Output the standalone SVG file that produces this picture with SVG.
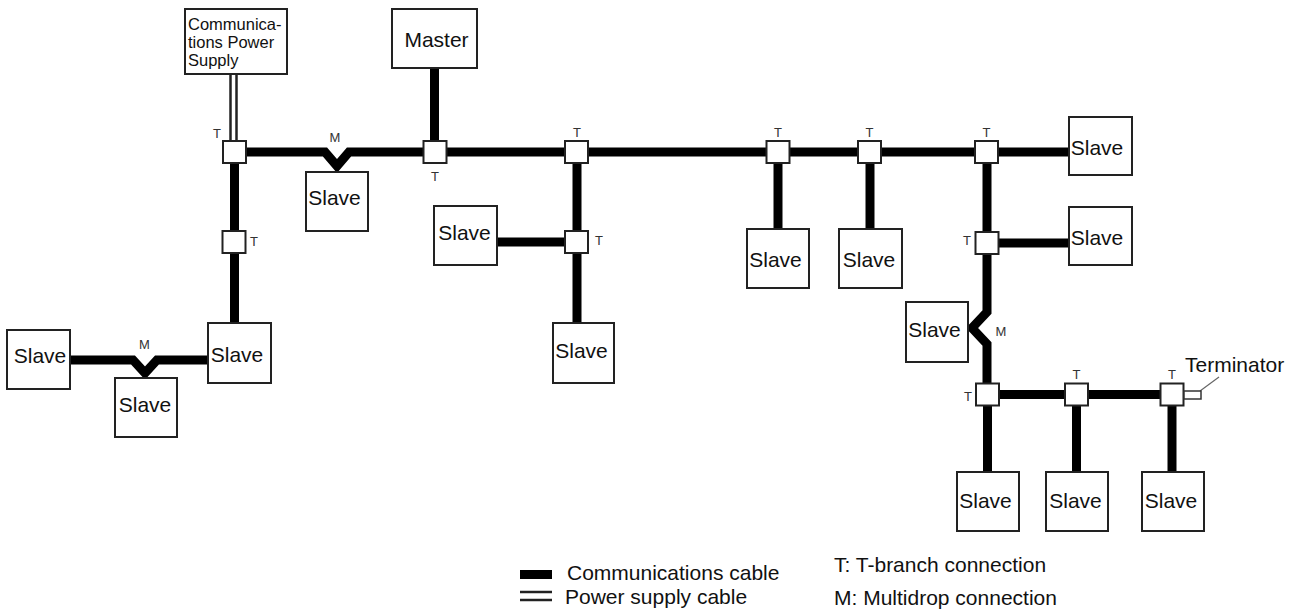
<svg xmlns="http://www.w3.org/2000/svg" width="1298" height="610" viewBox="0 0 1298 610">
<style>
.box{fill:#fff;stroke:#222;stroke-width:2}
.t{fill:#fff;stroke:#222;stroke-width:2}
.cab{fill:none;stroke:#000;stroke-width:9;stroke-linejoin:miter;stroke-miterlimit:10}
.pw{fill:none;stroke:#222;stroke-width:2.5}
.lbl{font-family:"Liberation Sans",Arial,sans-serif;font-size:21px;fill:#111}
.leg{font-family:"Liberation Sans",Arial,sans-serif;font-size:21px;fill:#111}
.ps{font-family:"Liberation Sans",Arial,sans-serif;font-size:16.5px;fill:#111}
.tl{font-family:"Liberation Sans",Arial,sans-serif;font-size:13px;fill:#333;text-anchor:middle}
.sl{text-anchor:middle}
</style>
<rect width="1298" height="610" fill="#fff"/>
<g id="connectors">
<path class="cab" d="M234.5,152 L325,152 L337,166 L349,152 L1069,152"/>
<path class="cab" d="M234.5,152 L234.5,323"/>
<path class="cab" d="M70,360 L133,360 L145,373 L157,360 L208,360"/>
<path class="cab" d="M434.5,68 L434.5,152"/>
<path class="cab" d="M577,152 L577,323"/>
<path class="cab" d="M497,242 L577,242"/>
<path class="cab" d="M778,152 L778,229"/>
<path class="cab" d="M870,152 L870,229"/>
<path class="cab" d="M987,152 L987,312 L972,328 L987,344 L987,394.5 L1172,394.5"/>
<path class="cab" d="M987,243 L1069,243"/>
<path class="cab" d="M987.5,394.5 L987.5,472"/>
<path class="cab" d="M1076.5,394.5 L1076.5,472"/>
<path class="cab" d="M1172,394.5 L1172,472"/>
<line class="pw" x1="230.5" y1="74" x2="230.5" y2="141"/>
<line class="pw" x1="236.5" y1="74" x2="236.5" y2="141"/>
<line x1="1200" y1="391" x2="1219" y2="377" stroke="#666" stroke-width="1.2"/>
</g>
<g id="tbranches">
<rect class="t" x="223" y="141" width="23" height="22"/>
<rect class="t" x="423.5" y="141" width="23" height="22"/>
<rect class="t" x="565" y="141" width="23" height="22"/>
<rect class="t" x="766.5" y="141" width="23" height="22"/>
<rect class="t" x="858" y="141" width="23" height="22"/>
<rect class="t" x="975" y="141" width="23" height="22"/>
<rect class="t" x="222.5" y="231" width="23" height="22"/>
<rect class="t" x="565" y="231" width="23" height="22"/>
<rect class="t" x="975.5" y="232" width="23" height="22"/>
<rect class="t" x="976" y="383.5" width="23" height="22"/>
<rect class="t" x="1065" y="383.5" width="23" height="22"/>
<rect class="t" x="1160.5" y="383.5" width="23" height="22"/>
<text class="tl" x="217" y="138">T</text>
<text class="tl" x="335" y="142">M</text>
<text class="tl" x="435" y="181">T</text>
<text class="tl" x="577" y="137">T</text>
<text class="tl" x="778" y="137">T</text>
<text class="tl" x="869.5" y="137">T</text>
<text class="tl" x="986.5" y="137">T</text>
<text class="tl" x="254" y="246">T</text>
<text class="tl" x="599" y="245">T</text>
<text class="tl" x="967" y="245">T</text>
<text class="tl" x="1001" y="336">M</text>
<text class="tl" x="144.5" y="349">M</text>
<text class="tl" x="968" y="401">T</text>
<text class="tl" x="1076.5" y="379">T</text>
<text class="tl" x="1172" y="379">T</text>
</g>
<g id="terminator">
<rect x="1184" y="391" width="17" height="8" fill="#fff" stroke="#333" stroke-width="1.5"/>
<text class="lbl" x="1185" y="372">Terminator</text>
</g>
<g id="power-supply">
<rect class="box" x="185" y="9" width="102" height="65"/>
<text class="ps" x="188" y="30">Communica-</text>
<text class="ps" x="188" y="48">tions Power</text>
<text class="ps" x="188" y="66">Supply</text>
</g>
<g id="master">
<rect class="box" x="392" y="9" width="85" height="59"/>
<text class="lbl sl" x="436.5" y="47">Master</text>
</g>
<g id="slave-m1"><rect class="box" x="306" y="172" width="62" height="59"/><text class="lbl sl" x="334.5" y="205">Slave</text></g>
<g id="slave-bl1"><rect class="box" x="7" y="330" width="63" height="59"/><text class="lbl sl" x="40" y="363">Slave</text></g>
<g id="slave-bl2"><rect class="box" x="115" y="378" width="62" height="59"/><text class="lbl sl" x="145" y="412">Slave</text></g>
<g id="slave-bl3"><rect class="box" x="208" y="323" width="63" height="60"/><text class="lbl sl" x="237" y="362">Slave</text></g>
<g id="slave-c1"><rect class="box" x="434" y="206" width="63" height="59"/><text class="lbl sl" x="464.5" y="240">Slave</text></g>
<g id="slave-c2"><rect class="box" x="553" y="323" width="61" height="60"/><text class="lbl sl" x="581.5" y="358">Slave</text></g>
<g id="slave-d"><rect class="box" x="747" y="229" width="62" height="59"/><text class="lbl sl" x="775.5" y="267">Slave</text></g>
<g id="slave-e"><rect class="box" x="839" y="229" width="63" height="59"/><text class="lbl sl" x="869" y="267">Slave</text></g>
<g id="slave-r1"><rect class="box" x="1069" y="117" width="63" height="58"/><text class="lbl sl" x="1097" y="155">Slave</text></g>
<g id="slave-r2"><rect class="box" x="1069" y="207" width="63" height="58"/><text class="lbl sl" x="1097" y="245">Slave</text></g>
<g id="slave-m2"><rect class="box" x="906" y="302" width="62" height="60"/><text class="lbl sl" x="934.5" y="337">Slave</text></g>
<g id="slave-b1"><rect class="box" x="957" y="472" width="62" height="59"/><text class="lbl sl" x="985.5" y="508">Slave</text></g>
<g id="slave-b2"><rect class="box" x="1046" y="472" width="62" height="59"/><text class="lbl sl" x="1075.5" y="508">Slave</text></g>
<g id="slave-b3"><rect class="box" x="1142" y="472" width="62" height="59"/><text class="lbl sl" x="1171" y="508">Slave</text></g>
<g id="legend">
<rect x="520" y="570" width="32" height="9" fill="#000"/>
<line class="pw" x1="520" y1="592" x2="552" y2="592"/>
<line class="pw" x1="520" y1="600" x2="552" y2="600"/>
<text class="leg" x="567" y="580">Communications cable</text>
<text class="leg" x="565" y="604">Power supply cable</text>
<text class="leg" x="834" y="572">T: T-branch connection</text>
<text class="leg" x="834" y="605">M: Multidrop connection</text>
</g>
</svg>
